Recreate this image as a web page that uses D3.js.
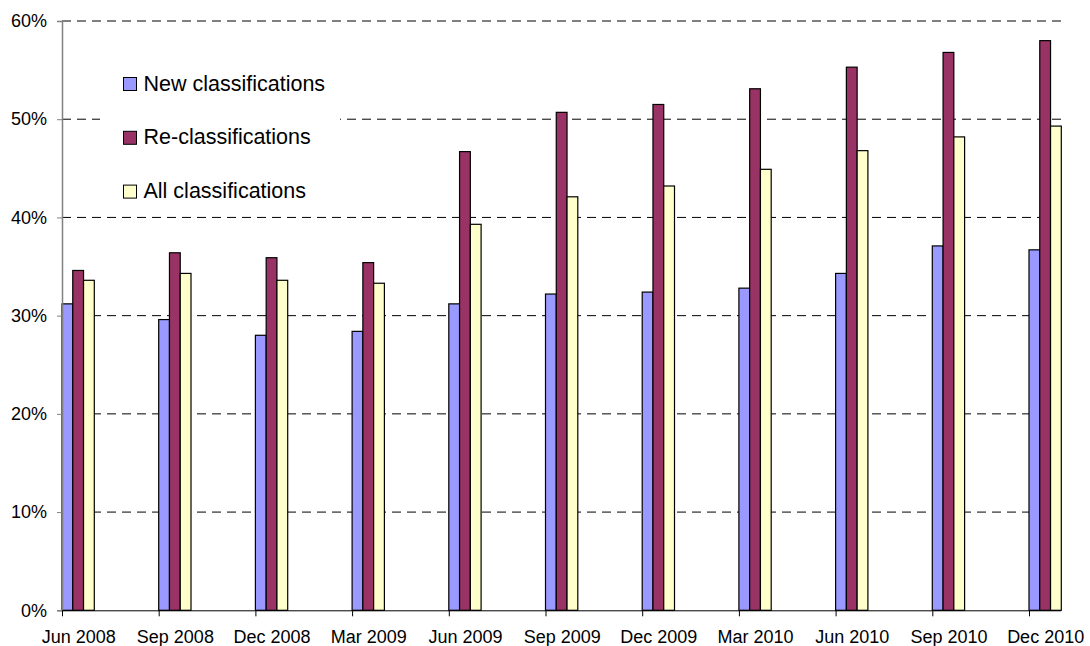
<!DOCTYPE html>
<html>
<head>
<meta charset="utf-8">
<script src="https://cdn.jsdelivr.net/npm/d3@7"></script>
<style>
  html, body { margin: 0; padding: 0; background: #fff; }
  svg { display: block; font-family: "Liberation Sans", Arial, sans-serif; }
</style>
</head>
<body>
<svg id="chart" width="1090" height="646"></svg>
<script>
// Quarterly share of classifications, by type
const quarters = ["Jun 2008", "Sep 2008", "Dec 2008", "Mar 2009", "Jun 2009", "Sep 2009",
                  "Dec 2009", "Mar 2010", "Jun 2010", "Sep 2010", "Dec 2010"];
const seriesNames = ["New classifications", "Re-classifications", "All classifications"];
const newValues = [31.2, 29.6, 28.0, 28.4, 31.2, 32.2, 32.4, 32.8, 34.3, 37.1, 36.7];
const reValues  = [34.6, 36.4, 35.9, 35.4, 46.7, 50.7, 51.5, 53.1, 55.3, 56.8, 58.0];
const allValues = [33.6, 34.3, 33.6, 33.3, 39.3, 42.1, 43.2, 44.9, 46.8, 48.2, 49.3];
const yTicks = [0, 10, 20, 30, 40, 50, 60];
const colors = ["#9999FF", "#993366", "#FFFFCC"];

const seriesValues = [newValues, reValues, allValues];

const svg = d3.select("#chart");

const plot = { left: 62, right: 1061, top: 21, bottom: 610.3 };

const x = d3.scalePoint().domain(quarters).range([plot.left, 1029]);
const inner = d3.scaleBand().domain(seriesNames).range([0, 32.3]).padding(0);
const y = d3.scaleLinear().domain([0, 60]).range([plot.bottom, plot.top]);
const groupWidth = inner.range()[1];

// dashed horizontal gridlines
svg.append("g")
  .selectAll("line")
  .data(yTicks.filter(d => d > 0))
  .join("line")
  .attr("x1", plot.left)
  .attr("x2", plot.right)
  .attr("y1", d => y(d))
  .attr("y2", d => y(d))
  .attr("stroke", "#000")
  .attr("stroke-width", 1)
  .attr("stroke-dasharray", "9,6");

// legend backdrop interrupts the gridline behind it
svg.append("rect")
  .attr("x", 100).attr("y", 60)
  .attr("width", 240).attr("height", 145)
  .attr("fill", "#fff");

// bars
const groups = svg.append("g")
  .selectAll("g")
  .data(seriesNames)
  .join("g")
  .attr("fill", (d, i) => colors[i]);

groups.selectAll("rect")
  .data((name, i) => seriesValues[i].map((v, j) => ({ name, q: quarters[j], v })))
  .join("rect")
  .attr("x", d => x(d.q) + inner(d.name))
  .attr("width", inner.bandwidth())
  .attr("y", d => y(d.v))
  .attr("height", d => y(0) - y(d.v))
  .attr("stroke", "#000")
  .attr("stroke-width", 1.2);

// y axis
const yAxis = svg.append("g")
  .attr("transform", `translate(${plot.left},0)`)
  .call(d3.axisLeft(y).tickValues(yTicks).tickFormat(d => d + "%").tickSize(5).tickPadding(10));
yAxis.select(".domain").attr("stroke", "#808080").attr("stroke-width", 1.5);
yAxis.selectAll(".tick line").attr("stroke", "#808080");
yAxis.selectAll("text")
  .attr("font-size", 18)
  .attr("fill", "#000")
  .attr("font-family", "'Liberation Sans', Arial, sans-serif");

// x axis: ticks at each quarter, labels centred under its bar group
const xAxis = svg.append("g")
  .attr("transform", `translate(0,${plot.bottom})`)
  .call(d3.axisBottom(x).tickSize(6).tickSizeOuter(0));
xAxis.select(".domain").attr("stroke", "#000").attr("d", `M${plot.left},0.5H${plot.right}`);
xAxis.selectAll(".tick line").attr("stroke", "#000");
xAxis.selectAll("text")
  .attr("x", groupWidth / 2)
  .attr("y", 33)
  .attr("dy", 0)
  .attr("font-size", 18)
  .attr("fill", "#000")
  .attr("font-family", "'Liberation Sans', Arial, sans-serif");

// legend
const legend = svg.append("g")
  .selectAll("g")
  .data(seriesNames)
  .join("g")
  .attr("transform", (d, i) => `translate(123.5,${77.5 + i * 53.8})`);
legend.append("rect")
  .attr("width", 13).attr("height", 13)
  .attr("fill", (d, i) => colors[i])
  .attr("stroke", "#000");
legend.append("text")
  .attr("x", 20)
  .attr("y", 13)
  .attr("font-size", 21.5)
  .attr("fill", "#000")
  .text(d => d);
</script>
</body>
</html>
